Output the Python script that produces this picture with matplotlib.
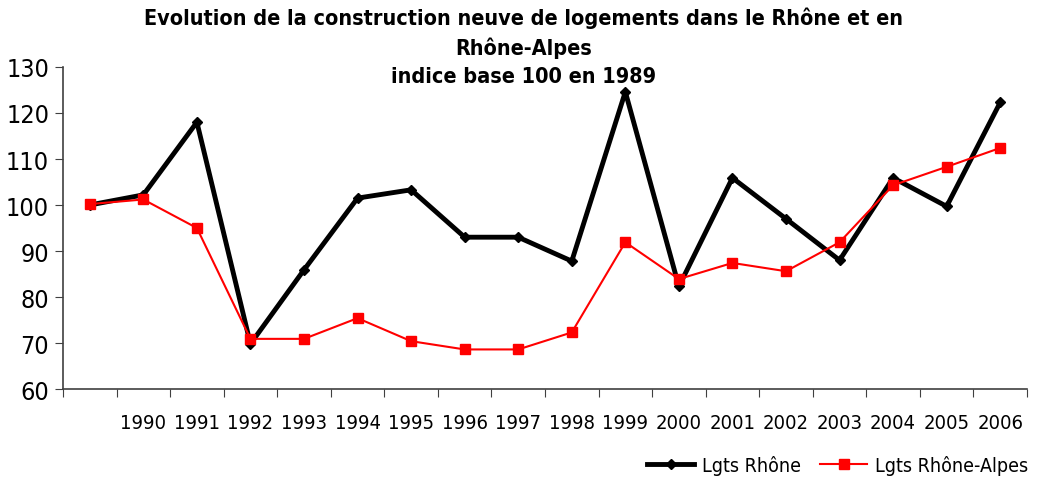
import matplotlib
matplotlib.use("Agg")
import matplotlib.pyplot as plt
import numpy as np

plt.rcParams['font.family'] = ['DejaVu Sans']
plt.rcParams['font.stretch'] = 'condensed'

years = ['', '1990', '1991', '1992', '1993', '1994', '1995', '1996', '1997',
         '1998', '1999', '2000', '2001', '2002', '2003', '2004', '2005', '2006']
rhone = [100, 102.2, 118, 69.8, 85.9, 101.5, 103.3, 93, 93,
         87.8, 124.6, 82.3, 105.9, 97, 88, 105.9, 99.7, 122.3]
rhone_alpes = [100.2, 101.2, 95, 70.9, 70.9, 75.4, 70.4, 68.6, 68.6,
               72.3, 91.9, 83.9, 87.4, 85.6, 91.9, 104.3, 108.3, 112.4]

fig = plt.figure(figsize=(10.37, 4.81), dpi=100)
ax = fig.add_axes([63 / 1037, 1 - 390 / 481, (1027 - 63) / 1037, (390 - 68) / 481])

x = np.arange(len(years))
ax.plot(x, rhone, color='black', lw=3.5, marker='D', ms=5, label='Lgts Rhône', zorder=3)
ax.plot(x, rhone_alpes, color='#ff0000', lw=1.5, marker='s', ms=7.5, label='Lgts Rhône-Alpes', zorder=4)

ax.set_xlim(-0.5, len(years) - 0.5)
ax.set_ylim(60, 130)
ax.set_yticks(range(60, 131, 10))
ax.tick_params(axis='y', labelsize=18, length=6, color='#404040', pad=4)

# ticks between categories, labels centred on categories
ax.set_xticks(np.arange(-0.5, len(years), 1))
ax.set_xticklabels([])
ax.set_xticks(x, minor=True)
ax.set_xticklabels(years, minor=True)
ax.tick_params(axis='x', which='major', length=6, color='#404040')
ax.tick_params(axis='x', which='minor', length=0, labelsize=14.5, pad=17)

for s in ['top', 'right']:
    ax.spines[s].set_visible(False)
for s in ['left', 'bottom']:
    ax.spines[s].set_color('#404040')
    ax.spines[s].set_linewidth(1.2)

fig.suptitle("Evolution de la construction neuve de logements dans le Rhône et en\n"
             "Rhône-Alpes\nindice base 100 en 1989",
             x=0.505, y=0.984, fontsize=15.5, fontweight='bold', linespacing=1.5, va='top')

fig.legend(loc='lower right', bbox_to_anchor=(1.008, -0.025), ncol=2, frameon=False,
           fontsize=14, handlelength=2.4, columnspacing=1.0, handletextpad=0.4)

fig.savefig('out.png', dpi=100)
